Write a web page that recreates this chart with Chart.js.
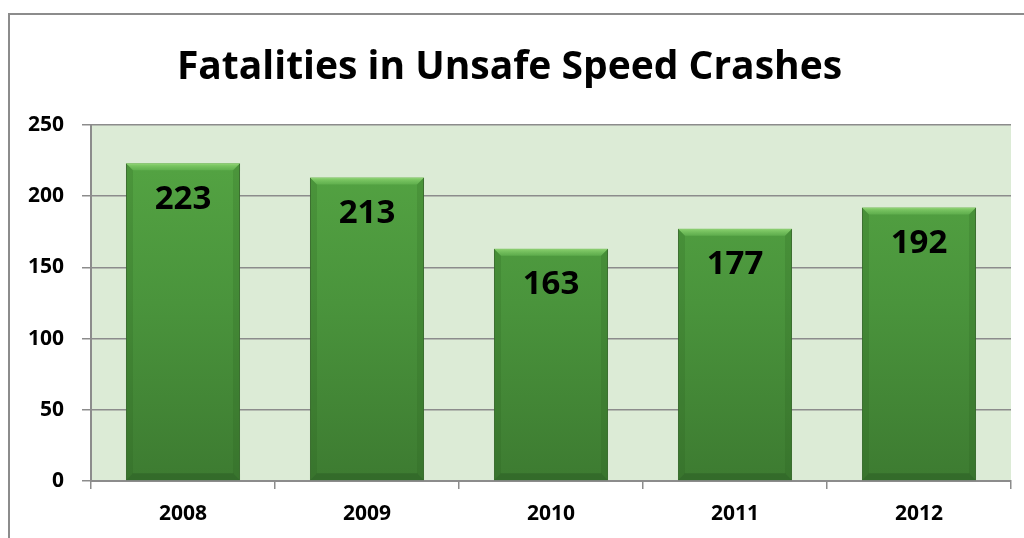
<!DOCTYPE html>
<html>
<head>
<meta charset="utf-8">
<script src="https://cdn.jsdelivr.net/npm/chart.js@4.4.0/dist/chart.umd.min.js"></script>
<style>
  html, body { margin: 0; padding: 0; background: #fff; }
  #wrap { width: 1024px; height: 538px; position: relative; }
</style>
</head>
<body>
<div id="wrap"><canvas id="speedChart" width="1024" height="538"></canvas></div>
<script>
var years = ['2008', '2009', '2010', '2011', '2012'];
var fatalities = [223, 213, 163, 177, 192];
var yTicks = [0, 50, 100, 150, 200, 250];

var fontFamily = "'Open Sans', 'Noto Sans', sans-serif";

// frame + plot background
var backdrop = {
    id: 'backdrop',
    beforeDraw: function (chart) {
        var ctx = chart.ctx, a = chart.chartArea;
        ctx.save();
        ctx.strokeStyle = '#8c8c8c';
        ctx.lineWidth = 2;
        ctx.beginPath();
        ctx.moveTo(9, 540);
        ctx.lineTo(9, 14);
        ctx.lineTo(1030, 14);
        ctx.stroke();
        ctx.fillStyle = '#dcebd6';
        ctx.fillRect(a.left, a.top, a.right - a.left, a.bottom - a.top);
        ctx.restore();
    }
};

// bevel look + value labels inside top of each bar
var barLabels = {
    id: 'barLabels',
    afterDatasetsDraw: function (chart) {
        var ctx = chart.ctx;
        var meta = chart.getDatasetMeta(0);
        var bv = 7;
        ctx.save();
        meta.data.forEach(function (bar) {
            var l = bar.x - bar.width / 2, r = bar.x + bar.width / 2;
            var t = bar.y, b = bar.base;
            // top bevel
            var tg = ctx.createLinearGradient(0, t, 0, t + bv);
            tg.addColorStop(0, 'rgba(150, 220, 120, 0.85)');
            tg.addColorStop(1, 'rgba(110, 190, 90, 0.5)');
            ctx.fillStyle = tg;
            ctx.beginPath();
            ctx.moveTo(l, t); ctx.lineTo(r, t); ctx.lineTo(r - bv, t + bv); ctx.lineTo(l + bv, t + bv);
            ctx.closePath(); ctx.fill();
            // side bevels
            ctx.fillStyle = 'rgba(40, 90, 30, 0.18)';
            ctx.beginPath();
            ctx.moveTo(l, t); ctx.lineTo(l + bv, t + bv); ctx.lineTo(l + bv, b - bv); ctx.lineTo(l, b);
            ctx.closePath(); ctx.fill();
            ctx.beginPath();
            ctx.moveTo(r, t); ctx.lineTo(r - bv, t + bv); ctx.lineTo(r - bv, b - bv); ctx.lineTo(r, b);
            ctx.closePath(); ctx.fill();
            // bottom bevel
            ctx.fillStyle = 'rgba(30, 70, 25, 0.3)';
            ctx.beginPath();
            ctx.moveTo(l, b); ctx.lineTo(r, b); ctx.lineTo(r - bv, b - bv); ctx.lineTo(l + bv, b - bv);
            ctx.closePath(); ctx.fill();
        });
        ctx.font = "bold 33px " + fontFamily;
        ctx.fillStyle = '#000';
        ctx.textAlign = 'center';
        ctx.textBaseline = 'middle';
        meta.data.forEach(function (bar, i) {
            ctx.fillText(fatalities[i], bar.x, bar.y + 36);
        });
        ctx.restore();
    }
};

function barFill(context) {
    var chart = context.chart, a = chart.chartArea;
    if (!a) return '#4a9a3c';
    var g = chart.ctx.createLinearGradient(0, a.top, 0, a.bottom);
    g.addColorStop(0, '#56a744');
    g.addColorStop(0.5, '#4a943c');
    g.addColorStop(1, '#3d7b31');
    return g;
}

var speedChart = new Chart(document.getElementById('speedChart'), {
    type: 'bar',
    data: {
        labels: years,
        datasets: [{
            label: 'Fatalities',
            data: fatalities,
            backgroundColor: barFill,
            borderColor: '#3a6e2e',
            borderWidth: 1,
            barPercentage: 0.62,
            categoryPercentage: 1
        }]
    },
    options: {
        responsive: false,
        animation: false,
        layout: { padding: { left: 8, right: 13, top: 13, bottom: 0 } },
        plugins: {
            legend: { display: false },
            tooltip: { enabled: false },
            title: {
                display: true,
                text: 'Fatalities in Unsafe Speed Crashes',
                color: '#000',
                font: { family: fontFamily, size: 39, weight: 'bold' },
                padding: { top: 31, bottom: 34 }
            }
        },
        scales: {
            x: {
                grid: { display: true, drawOnChartArea: false, offset: true, tickLength: 8, color: '#8c8c8c', lineWidth: 1.5 },
                border: { color: '#8c8c8c', width: 2 },
                ticks: { color: '#000', padding: 12, font: { family: fontFamily, size: 21, weight: 'bold' } },
                afterFit: function (scale) { scale.height = 57; }
            },
            y: {
                min: 0,
                max: 250,
                afterBuildTicks: function (scale) {
                    scale.ticks = yTicks.map(function (v) { return { value: v }; });
                },
                grid: { color: '#8c8c8c', lineWidth: 1.5, tickLength: 9 },
                border: { color: '#8c8c8c', width: 2 },
                ticks: { color: '#000', padding: 18, font: { family: fontFamily, size: 21, weight: 'bold' } },
                afterFit: function (scale) { scale.width = 83; }
            }
        }
    },
    plugins: [backdrop, barLabels]
});
</script>
</body>
</html>
